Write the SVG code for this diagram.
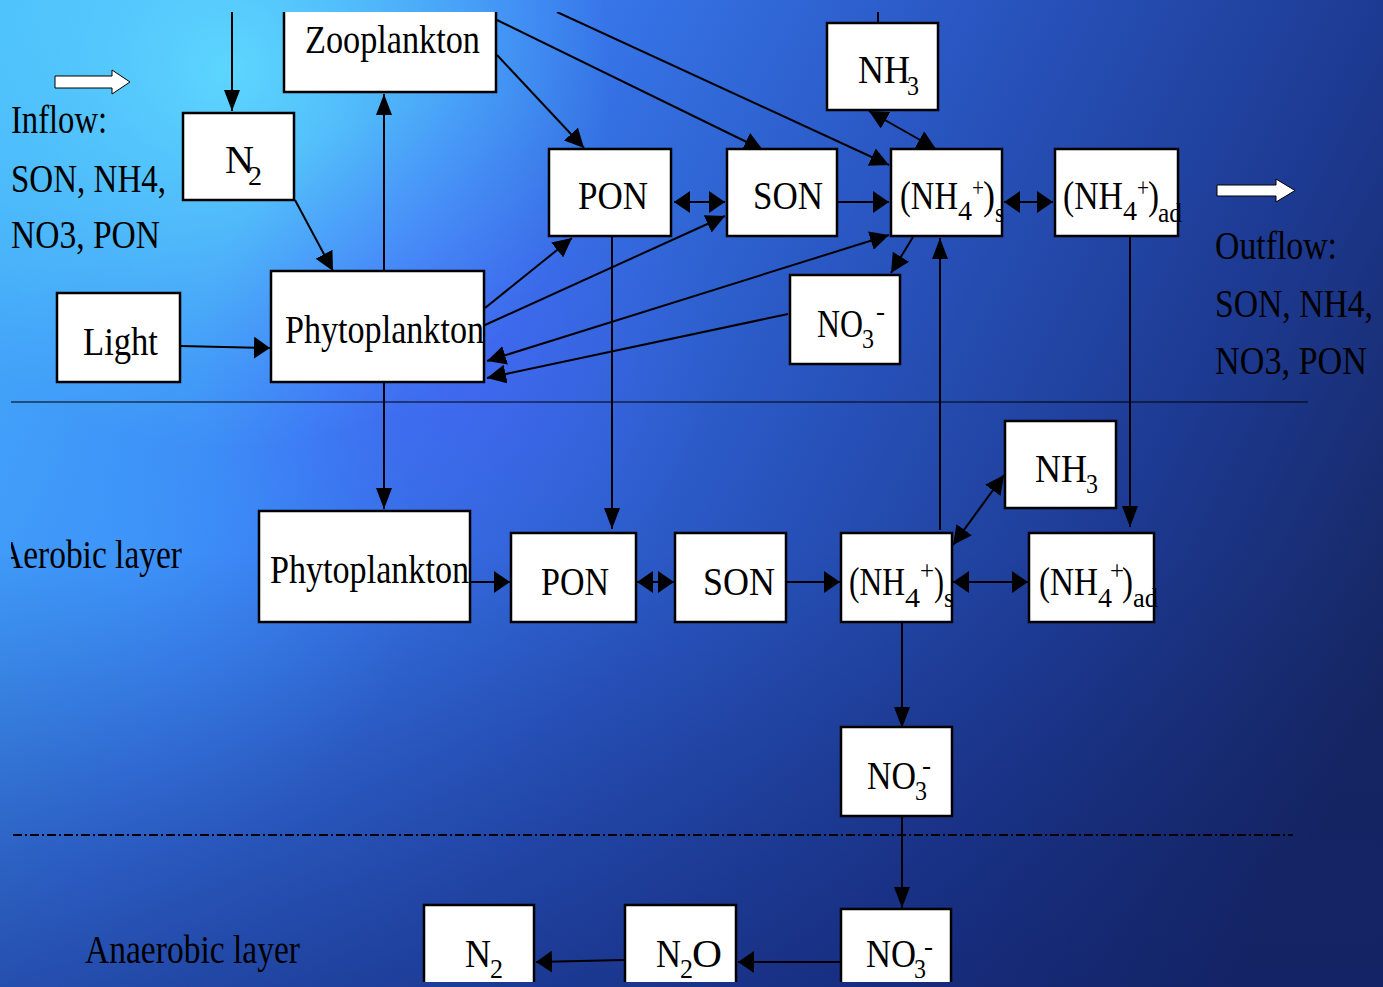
<svg xmlns="http://www.w3.org/2000/svg" width="1383" height="987" viewBox="0 0 1383 987">
<defs>
<linearGradient id="bg" x1="0" y1="0" x2="1383" y2="700" gradientUnits="userSpaceOnUse">
<stop offset="0" stop-color="#47b8fb"/>
<stop offset="0.3" stop-color="#3a7df2"/>
<stop offset="0.55" stop-color="#2a58c4"/>
<stop offset="0.8" stop-color="#1d3a92"/>
<stop offset="1" stop-color="#162660"/>
</linearGradient>
<linearGradient id="shade" x1="0" y1="550" x2="0" y2="987" gradientUnits="userSpaceOnUse">
<stop offset="0" stop-color="#10206a" stop-opacity="0"/>
<stop offset="1" stop-color="#10206a" stop-opacity="0.5"/>
</linearGradient>
<radialGradient id="hl1" cx="230" cy="70" r="380" gradientUnits="userSpaceOnUse">
<stop offset="0" stop-color="#5fdcff" stop-opacity="0.9"/>
<stop offset="1" stop-color="#5fdcff" stop-opacity="0"/>
</radialGradient>
<radialGradient id="hl2" cx="460" cy="360" r="260" gradientUnits="userSpaceOnUse">
<stop offset="0" stop-color="#4d5cff" stop-opacity="0.45"/>
<stop offset="1" stop-color="#4d5cff" stop-opacity="0"/>
</radialGradient>
<radialGradient id="hl3" cx="120" cy="560" r="300" gradientUnits="userSpaceOnUse">
<stop offset="0" stop-color="#3fa0ff" stop-opacity="0.5"/>
<stop offset="1" stop-color="#3fa0ff" stop-opacity="0"/>
</radialGradient>
<clipPath id="clip"><rect x="11" y="12" width="1372" height="970"/></clipPath>
<marker id="ah" viewBox="0 0 16 22" refX="16" refY="11" markerWidth="16" markerHeight="22" markerUnits="userSpaceOnUse" orient="auto-start-reverse"><path d="M0,0 L16,11 L0,22 Z" fill="#000"/></marker>
<marker id="av" viewBox="0 0 21 16" refX="21" refY="8" markerWidth="21" markerHeight="16" markerUnits="userSpaceOnUse" orient="auto-start-reverse"><path d="M0,0 L21,8 L0,16 Z" fill="#000"/></marker>
<marker id="ad" viewBox="0 0 19 19" refX="19" refY="9.5" markerWidth="19" markerHeight="19" markerUnits="userSpaceOnUse" orient="auto-start-reverse"><path d="M0,0 L19,9.5 L0,19 Z" fill="#000"/></marker>
<style>
.box{fill:#fff;stroke:#000;stroke-width:2.5}
.t{font-family:"Liberation Serif","Times New Roman",serif;font-size:40px;fill:#000}
.s{font-family:"Liberation Serif","Times New Roman",serif;font-size:28px;fill:#000}
.blk{fill:#fff;stroke:#000;stroke-width:1}
</style>
</defs>
<rect width="1383" height="987" fill="url(#bg)"/>
<rect width="1383" height="987" fill="url(#hl1)"/>
<rect width="1383" height="987" fill="url(#hl3)"/>
<rect width="1383" height="987" fill="url(#hl2)"/>
<rect width="1383" height="987" fill="url(#shade)"/>

<g clip-path="url(#clip)">
<g id="dividers" fill="none" stroke="#000">
<line x1="11" y1="402" x2="1308" y2="402" stroke-width="1.2"/>
<line x1="13" y1="835" x2="1293" y2="835" stroke-width="2" stroke-dasharray="9 3 2 3"/>
</g>

<g id="labels">
<polygon class="blk" points="55,76 112,76 112,70 130,82 112,94 112,88 55,88"/>
<text class="t" x="11" y="133" textLength="96" lengthAdjust="spacingAndGlyphs">Inflow:</text>
<text class="t" x="11" y="192" textLength="155" lengthAdjust="spacingAndGlyphs">SON, NH4,</text>
<text class="t" x="11" y="248" textLength="149" lengthAdjust="spacingAndGlyphs">NO3, PON</text>
<polygon class="blk" points="1217,185 1276,185 1276,179 1295,190.5 1276,202 1276,196 1217,196"/>
<text class="t" x="1215" y="259" textLength="122" lengthAdjust="spacingAndGlyphs">Outflow:</text>
<text class="t" x="1215" y="317" textLength="158" lengthAdjust="spacingAndGlyphs">SON, NH4,</text>
<text class="t" x="1215" y="374" textLength="152" lengthAdjust="spacingAndGlyphs">NO3, PON</text>
<text class="t" x="-1" y="568" textLength="183" lengthAdjust="spacingAndGlyphs">Aerobic layer</text>
<text class="t" x="85" y="963" textLength="215" lengthAdjust="spacingAndGlyphs">Anaerobic layer</text>
</g>

<g id="connectors" fill="none" stroke="#000" stroke-width="2">
<line x1="232" y1="12" x2="232" y2="111" marker-end="url(#av)"/>
<line x1="878" y1="12" x2="878" y2="23"/>
<line x1="295" y1="200" x2="333" y2="271" marker-end="url(#ad)"/>
<line x1="180" y1="346" x2="270" y2="348" marker-end="url(#ah)"/>
<line x1="384" y1="270" x2="384" y2="94" marker-end="url(#av)"/>
<line x1="497" y1="55" x2="584" y2="148" marker-end="url(#ad)"/>
<line x1="497" y1="20" x2="763" y2="150" marker-end="url(#ad)"/>
<line x1="557" y1="12" x2="889" y2="165" marker-end="url(#ad)"/>
<line x1="869" y1="111" x2="936" y2="149" marker-start="url(#ad)" marker-end="url(#ad)"/>
<line x1="674" y1="202" x2="725" y2="202" marker-start="url(#ah)" marker-end="url(#ah)"/>
<line x1="838" y1="202" x2="889" y2="202" marker-end="url(#ah)"/>
<line x1="1004" y1="202" x2="1053" y2="202" marker-start="url(#ah)" marker-end="url(#ah)"/>
<line x1="485" y1="308" x2="572" y2="238" marker-end="url(#ad)"/>
<line x1="485" y1="325" x2="725" y2="216" marker-end="url(#ad)"/>
<line x1="487" y1="361" x2="889" y2="235" marker-start="url(#ad)" marker-end="url(#ad)"/>
<line x1="788" y1="314" x2="487" y2="378" marker-end="url(#ad)"/>
<line x1="913" y1="237" x2="891" y2="273" marker-end="url(#ad)"/>
<line x1="384" y1="382" x2="384" y2="509" marker-end="url(#av)"/>
<line x1="612" y1="236" x2="612" y2="529" marker-end="url(#av)"/>
<line x1="940" y1="530" x2="940" y2="238" marker-end="url(#av)"/>
<line x1="1130" y1="236" x2="1130" y2="527" marker-end="url(#av)"/>
<line x1="470" y1="582" x2="510" y2="582" marker-end="url(#ah)"/>
<line x1="637" y1="582" x2="674" y2="582" marker-start="url(#ah)" marker-end="url(#ah)"/>
<line x1="787" y1="582" x2="840" y2="582" marker-end="url(#ah)"/>
<line x1="953" y1="582" x2="1028" y2="582" marker-start="url(#ah)" marker-end="url(#ah)"/>
<line x1="953" y1="545" x2="1004" y2="475" marker-start="url(#ad)" marker-end="url(#ad)"/>
<line x1="902" y1="620" x2="902" y2="728" marker-end="url(#av)"/>
<line x1="902" y1="816" x2="902" y2="908" marker-end="url(#av)"/>
<line x1="840" y1="962" x2="738" y2="962" marker-end="url(#ah)"/>
<line x1="624" y1="960" x2="536" y2="962" marker-end="url(#ah)"/>
</g>

<g id="zooplankton">
<rect class="box" x="284" y="2" width="212" height="90"/>
<text class="t" x="305" y="53" textLength="175" lengthAdjust="spacingAndGlyphs">Zooplankton</text>
</g>
<g id="n2-top">
<rect class="box" x="183" y="113" width="111" height="87"/>
<text class="t" x="225" y="173" textLength="29" lengthAdjust="spacingAndGlyphs">N</text>
<text class="s" x="248" y="185" textLength="14" lengthAdjust="spacingAndGlyphs">2</text>
</g>
<g id="light">
<rect class="box" x="57" y="293" width="123" height="89"/>
<text class="t" x="83" y="355" textLength="75" lengthAdjust="spacingAndGlyphs">Light</text>
</g>
<g id="phyto-top">
<rect class="box" x="271" y="271" width="213" height="111"/>
<text class="t" x="285" y="343" textLength="199" lengthAdjust="spacingAndGlyphs">Phytoplankton</text>
</g>
<g id="pon-top">
<rect class="box" x="549" y="149" width="122" height="87"/>
<text class="t" x="578" y="209" textLength="70" lengthAdjust="spacingAndGlyphs">PON</text>
</g>
<g id="son-top">
<rect class="box" x="727" y="149" width="110" height="87"/>
<text class="t" x="753" y="209" textLength="70" lengthAdjust="spacingAndGlyphs">SON</text>
</g>
<g id="nh3-top">
<rect class="box" x="827" y="23" width="111" height="87"/>
<text class="t" x="858" y="83" textLength="52" lengthAdjust="spacingAndGlyphs">NH</text>
<text class="s" x="907" y="95" textLength="12" lengthAdjust="spacingAndGlyphs">3</text>
</g>
<g id="nh4s-top">
<rect class="box" x="891" y="149" width="111" height="87"/>
<text class="t" x="900" y="209" textLength="58" lengthAdjust="spacingAndGlyphs">(NH</text>
<text class="s" x="958" y="220" textLength="14" lengthAdjust="spacingAndGlyphs">4</text>
<text class="s" x="972" y="197" textLength="12" lengthAdjust="spacingAndGlyphs">+</text>
<text class="t" x="983" y="209" textLength="12" lengthAdjust="spacingAndGlyphs">)</text>
<text class="s" x="995" y="222" textLength="9" lengthAdjust="spacingAndGlyphs">s</text>
</g>
<g id="nh4ad-top">
<rect class="box" x="1055" y="149" width="123" height="87"/>
<text class="t" x="1063" y="209" textLength="60" lengthAdjust="spacingAndGlyphs">(NH</text>
<text class="s" x="1123" y="220" textLength="14" lengthAdjust="spacingAndGlyphs">4</text>
<text class="s" x="1137" y="197" textLength="12" lengthAdjust="spacingAndGlyphs">+</text>
<text class="t" x="1148" y="209" textLength="11" lengthAdjust="spacingAndGlyphs">)</text>
<text class="s" x="1158" y="222" textLength="24" lengthAdjust="spacingAndGlyphs">ad</text>
</g>
<g id="no3-top">
<rect class="box" x="790" y="275" width="110" height="89"/>
<text class="t" x="817" y="337" textLength="46" lengthAdjust="spacingAndGlyphs">NO</text>
<text class="s" x="862" y="348" textLength="12" lengthAdjust="spacingAndGlyphs">3</text>
<text class="s" x="876" y="320" textLength="9" lengthAdjust="spacingAndGlyphs">-</text>
</g>

<g id="phyto-aer">
<rect class="box" x="259" y="511" width="211" height="111"/>
<text class="t" x="270" y="583" textLength="199" lengthAdjust="spacingAndGlyphs">Phytoplankton</text>
</g>
<g id="pon-aer">
<rect class="box" x="511" y="533" width="125" height="89"/>
<text class="t" x="541" y="595" textLength="68" lengthAdjust="spacingAndGlyphs">PON</text>
</g>
<g id="son-aer">
<rect class="box" x="675" y="533" width="111" height="89"/>
<text class="t" x="703" y="595" textLength="72" lengthAdjust="spacingAndGlyphs">SON</text>
</g>
<g id="nh4s-aer">
<rect class="box" x="841" y="533" width="111" height="89"/>
<text class="t" x="849" y="595" textLength="56" lengthAdjust="spacingAndGlyphs">(NH</text>
<text class="s" x="905" y="607" textLength="15" lengthAdjust="spacingAndGlyphs">4</text>
<text class="s" x="920" y="580" textLength="14" lengthAdjust="spacingAndGlyphs">+</text>
<text class="t" x="934" y="595" textLength="10" lengthAdjust="spacingAndGlyphs">)</text>
<text class="s" x="944" y="607" textLength="10" lengthAdjust="spacingAndGlyphs">s</text>
</g>
<g id="nh3-aer">
<rect class="box" x="1005" y="421" width="111" height="87"/>
<text class="t" x="1035" y="482" textLength="52" lengthAdjust="spacingAndGlyphs">NH</text>
<text class="s" x="1086" y="493" textLength="12" lengthAdjust="spacingAndGlyphs">3</text>
</g>
<g id="nh4ad-aer">
<rect class="box" x="1029" y="533" width="125" height="89"/>
<text class="t" x="1039" y="595" textLength="59" lengthAdjust="spacingAndGlyphs">(NH</text>
<text class="s" x="1098" y="607" textLength="14" lengthAdjust="spacingAndGlyphs">4</text>
<text class="s" x="1110" y="580" textLength="14" lengthAdjust="spacingAndGlyphs">+</text>
<text class="t" x="1122" y="595" textLength="11" lengthAdjust="spacingAndGlyphs">)</text>
<text class="s" x="1133" y="607" textLength="25" lengthAdjust="spacingAndGlyphs">ad</text>
</g>
<g id="no3-aer">
<rect class="box" x="841" y="727" width="111" height="89"/>
<text class="t" x="867" y="789" textLength="49" lengthAdjust="spacingAndGlyphs">NO</text>
<text class="s" x="915" y="800" textLength="12" lengthAdjust="spacingAndGlyphs">3</text>
<text class="s" x="922" y="774" textLength="9" lengthAdjust="spacingAndGlyphs">-</text>
</g>

<g id="no3-ana">
<rect class="box" x="841" y="909" width="110" height="90"/>
<text class="t" x="866" y="967" textLength="50" lengthAdjust="spacingAndGlyphs">NO</text>
<text class="s" x="914" y="978" textLength="12" lengthAdjust="spacingAndGlyphs">3</text>
<text class="s" x="924" y="955" textLength="9" lengthAdjust="spacingAndGlyphs">-</text>
</g>
<g id="n2o-ana">
<rect class="box" x="625" y="905" width="111" height="94"/>
<text class="t" x="656" y="967" textLength="25" lengthAdjust="spacingAndGlyphs">N</text>
<text class="s" x="680" y="978" textLength="13" lengthAdjust="spacingAndGlyphs">2</text>
<text class="t" x="692" y="967" textLength="30" lengthAdjust="spacingAndGlyphs">O</text>
</g>
<g id="n2-ana">
<rect class="box" x="424" y="905" width="110" height="94"/>
<text class="t" x="465" y="967" textLength="26" lengthAdjust="spacingAndGlyphs">N</text>
<text class="s" x="490" y="978" textLength="13" lengthAdjust="spacingAndGlyphs">2</text>
</g>
</g>
</svg>
